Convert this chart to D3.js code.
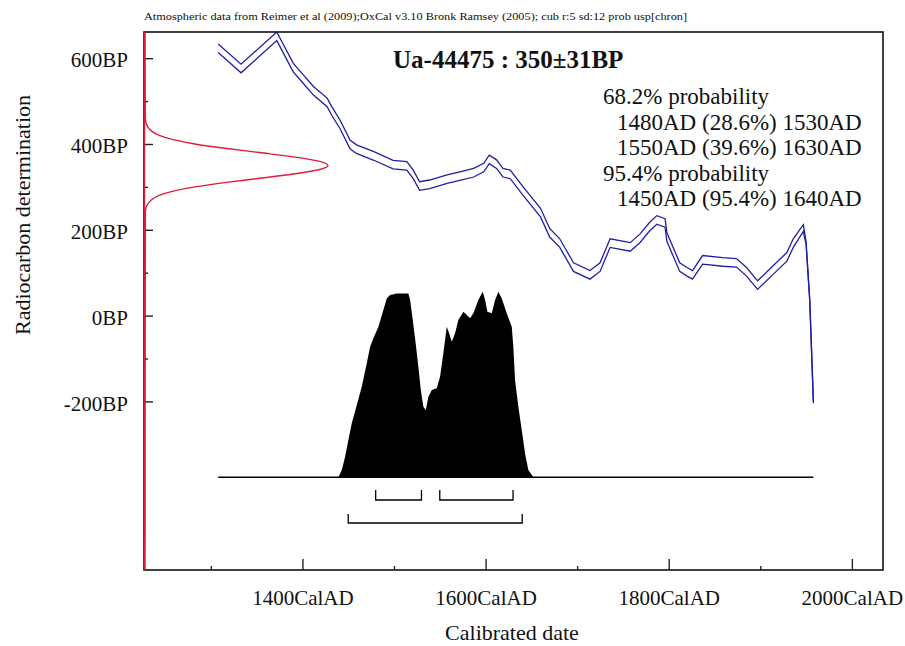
<!DOCTYPE html>
<html>
<head>
<meta charset="utf-8">
<script src="https://cdn.jsdelivr.net/npm/d3@7"></script>
<style>
  body { margin: 0; background: #fff; }
  text { font-family: "Liberation Serif", "Times New Roman", serif; fill: #111; }
</style>
</head>
<body>
<svg id="chart" width="905" height="646"></svg>
<script>
// Calibration curve (IntCal09 style): calendar year, radiocarbon age, 1-sigma band
const calYears = [1308,1333,1372,1390,1401,1412,1427,1432,1441,1452,1459,1478,1499,1514,1521,1528,1539,1558,1572,1587,1598,1604,1612,1619,1627,1641,1660,1670,1681,1696,1714,1725,1736,1758,1769,1779,1787,1796,1798,1812,1820,1826,1837,1859,1874,1885,1897,1914,1929,1936,1947,1950,1954,1958];
const calBP    = [623,576,651,578,551,524,497,477,446,399,388,372,352,349,329,302,306,318,325,333,345,364,353,333,329,290,240,193,169,113,95,113,169,160,181,207,223,216,183,113,102,95,130,125,123,102,71,106,137,169,204,169,36,-202];
const calErr   = [10,10,10,10,10,10,10,10,10,10,10,10,10,10,10,10,10,10,10,10,10,10,10,10,10,10,10,10,10,10,10,10,10,10,10,10,10,10,10,10,10,10,10,10,10,10,10,10,10,10,8,3,2,2];

// Calibrated date distribution (relative probability)
const probYears  = [1439.3,1443.0,1446.6,1450.2,1453.9,1459.4,1464.8,1470.3,1473.9,1477.5,1483.0,1488.4,1492.1,1495.7,1503.1,1515.7,1517.6,1520.5,1524.1,1526.6,1529.3,1532.1,1534.7,1537.6,1541.3,1546.7,1550.3,1553.9,1557.6,1560.2,1563.1,1566.7,1570.3,1575.8,1579.5,1583.1,1586.7,1592.1,1596.9,1599.5,1602.0,1606.8,1610.4,1614.0,1617.7,1623.1,1628.6,1630.3,1632.2,1635.8,1639.5,1643.1,1646.7,1652.2];
const probValues = [0,0.039,0.111,0.201,0.291,0.390,0.488,0.614,0.704,0.749,0.811,0.901,0.964,0.982,0.991,0.991,0.955,0.848,0.704,0.596,0.470,0.380,0.363,0.434,0.470,0.480,0.542,0.668,0.811,0.776,0.731,0.776,0.848,0.892,0.874,0.857,0.884,0.955,1.0,0.955,0.892,0.884,0.955,1.0,0.964,0.884,0.811,0.704,0.524,0.380,0.255,0.129,0.039,0];

// Radiocarbon measurement likelihood (Ua-44475: 350±31BP)
const measLab = "Ua-44475";
const measBP = 350;
const measErr = 31;
const likeBP     = [460,450,440,430,420,410,400,390,380,370,360,350,340,330,320,310,300,290,280,270,260,250,240];
const likeValues = [0.002,0.005,0.015,0.036,0.078,0.154,0.272,0.435,0.626,0.812,0.949,1.0,0.949,0.812,0.626,0.435,0.272,0.154,0.078,0.036,0.015,0.005,0.002];

// Calibrated ranges
const ranges68 = [[1480,1530],[1550,1630]];
const pct68    = [28.6, 39.6];
const ranges95 = [[1450,1640]];
const pct95    = [95.4];

// Axis ticks
const xTicks = [1400,1600,1800,2000];
const xMinor = [1300,1500,1700,1900];
const yTicks = [600,400,200,0,-200];
const yMinor = [500,300,100,-100];

const headerText = "Atmospheric data from Reimer et al (2009);OxCal v3.10 Bronk Ramsey (2005); cub r:5 sd:12 prob usp[chron]";

const svg = d3.select("#chart");
const L = 144, T = 32, R = 883, B = 570;

const x = d3.scaleLinear().domain([1227, 2034]).range([L, R]);
const y = d3.scaleLinear().domain([661, -593]).range([T, B]);

const blue = "#1f1fa6";
const red = "#e01b3c";
const serif = "Liberation Serif, Times New Roman, serif";

// header
svg.append("text")
  .attr("x", L).attr("y", 20)
  .attr("font-size", 10).attr("font-family", serif)
  .attr("textLength", 543).attr("lengthAdjust", "spacingAndGlyphs")
  .text(headerText);

// calibration curve band (two lines)
const lineUp = d3.line().x((d, i) => x(calYears[i])).y((d, i) => y(calBP[i] + calErr[i]));
const lineLo = d3.line().x((d, i) => x(calYears[i])).y((d, i) => y(calBP[i] - calErr[i]));
const g = svg.append("g");
g.append("path").datum(calYears).attr("d", lineUp)
  .attr("fill", "none").attr("stroke", blue).attr("stroke-width", 1.3);
g.append("path").datum(calYears).attr("d", lineLo)
  .attr("fill", "none").attr("stroke", blue).attr("stroke-width", 1.3);

// calibrated probability distribution
const probBaseBP = -377;
const probHeight = 185.6;
const py = d3.scaleLinear().domain([0, 1]).range([y(probBaseBP), y(probBaseBP) - probHeight]);
const area = d3.area()
  .x((d, i) => x(probYears[i]))
  .y0(py(0))
  .y1((d, i) => py(probValues[i]));
g.append("path").datum(probValues).attr("d", area).attr("fill", "#000");

// baseline spanning the calibration curve range
const ext = d3.extent(calYears);
g.append("line")
  .attr("x1", x(ext[0])).attr("x2", x(ext[1]))
  .attr("y1", py(0)).attr("y2", py(0))
  .attr("stroke", "#000").attr("stroke-width", 1.5);

// range brackets
function bracket(r, yy, h) {
  const p = d3.path();
  p.moveTo(x(r[0]), yy - h);
  p.lineTo(x(r[0]), yy);
  p.lineTo(x(r[1]), yy);
  p.lineTo(x(r[1]), yy - h);
  g.append("path").attr("d", p.toString())
    .attr("fill", "none").attr("stroke", "#000").attr("stroke-width", 1.3);
}
ranges68.forEach(r => bracket(r, 500, 10));
ranges95.forEach(r => bracket(r, 523, 9));

// measurement likelihood along the BP axis
const lx = d3.scaleLinear().domain([0, 1]).range([L + 1, 328]);
const likePts = [[y.domain()[0], 0]].concat(likeBP.map((b, i) => [b, likeValues[i]])).concat([[y.domain()[1], 0]]);
svg.append("path")
  .datum(likePts)
  .attr("d", d3.line().x(d => lx(d[1])).y(d => y(d[0])).curve(d3.curveMonotoneY))
  .attr("fill", "none").attr("stroke", red).attr("stroke-width", 1.4);

// axes
const xAxis = svg.append("g").attr("transform", `translate(0,${B})`)
  .call(d3.axisBottom(x).tickValues(xTicks).tickSize(-11).tickPadding(20).tickFormat(d => d + "CalAD"));
const xAxisMinor = svg.append("g").attr("transform", `translate(0,${B})`)
  .call(d3.axisBottom(x).tickValues(xMinor).tickSize(-4).tickFormat(""));
const yAxis = svg.append("g").attr("transform", `translate(${L},0)`)
  .call(d3.axisLeft(y).tickValues(yTicks).tickSize(-9).tickPadding(16).tickFormat(d => d + "BP"));
const yAxisMinor = svg.append("g").attr("transform", `translate(${L},0)`)
  .call(d3.axisLeft(y).tickValues(yMinor).tickSize(-4).tickFormat(""));
[xAxis, xAxisMinor, yAxis, yAxisMinor].forEach(a => {
  a.select(".domain").remove();
  a.selectAll(".tick line").attr("stroke", "#222").attr("stroke-width", 1.4);
  a.selectAll("text").attr("font-size", 21).attr("font-family", serif).attr("fill", "#111");
});
yAxis.selectAll("text").attr("dy", "0.42em");

// frame
svg.append("rect").attr("x", L).attr("y", T).attr("width", R - L).attr("height", B - T)
  .attr("fill", "none").attr("stroke", "#111").attr("stroke-width", 1.6);
svg.append("line").attr("x1", L + 0.5).attr("x2", L + 0.5).attr("y1", T).attr("y2", B)
  .attr("stroke", red).attr("stroke-width", 1.4);

// axis titles
svg.append("text").attr("x", 512).attr("y", 640).attr("text-anchor", "middle")
  .attr("font-size", 22).attr("font-family", serif).text("Calibrated date");
svg.append("text").attr("transform", "translate(30,215) rotate(-90)").attr("text-anchor", "middle")
  .attr("font-size", 22).attr("font-family", serif).text("Radiocarbon determination");

// title
svg.append("text").attr("x", 393).attr("y", 68).attr("font-size", 25).attr("font-weight", "bold")
  .attr("font-family", serif)
  .text(`${measLab} : ${measBP}\u00b1${measErr}BP`);

// range summary
const lines = [
  { t: "68.2% probability", indent: 0 },
  ...ranges68.map((r, i) => ({ t: `${r[0]}AD (${pct68[i]}%) ${r[1]}AD`, indent: 1 })),
  { t: "95.4% probability", indent: 0 },
  ...ranges95.map((r, i) => ({ t: `${r[0]}AD (${pct95[i]}%) ${r[1]}AD`, indent: 1 }))
];
svg.append("g").selectAll("text").data(lines).join("text")
  .attr("x", d => d.indent ? 617 : 603)
  .attr("y", (d, i) => 104 + i * 25.5)
  .attr("font-size", 23).attr("font-family", serif)
  .text(d => d.t);
</script>
</body>
</html>
